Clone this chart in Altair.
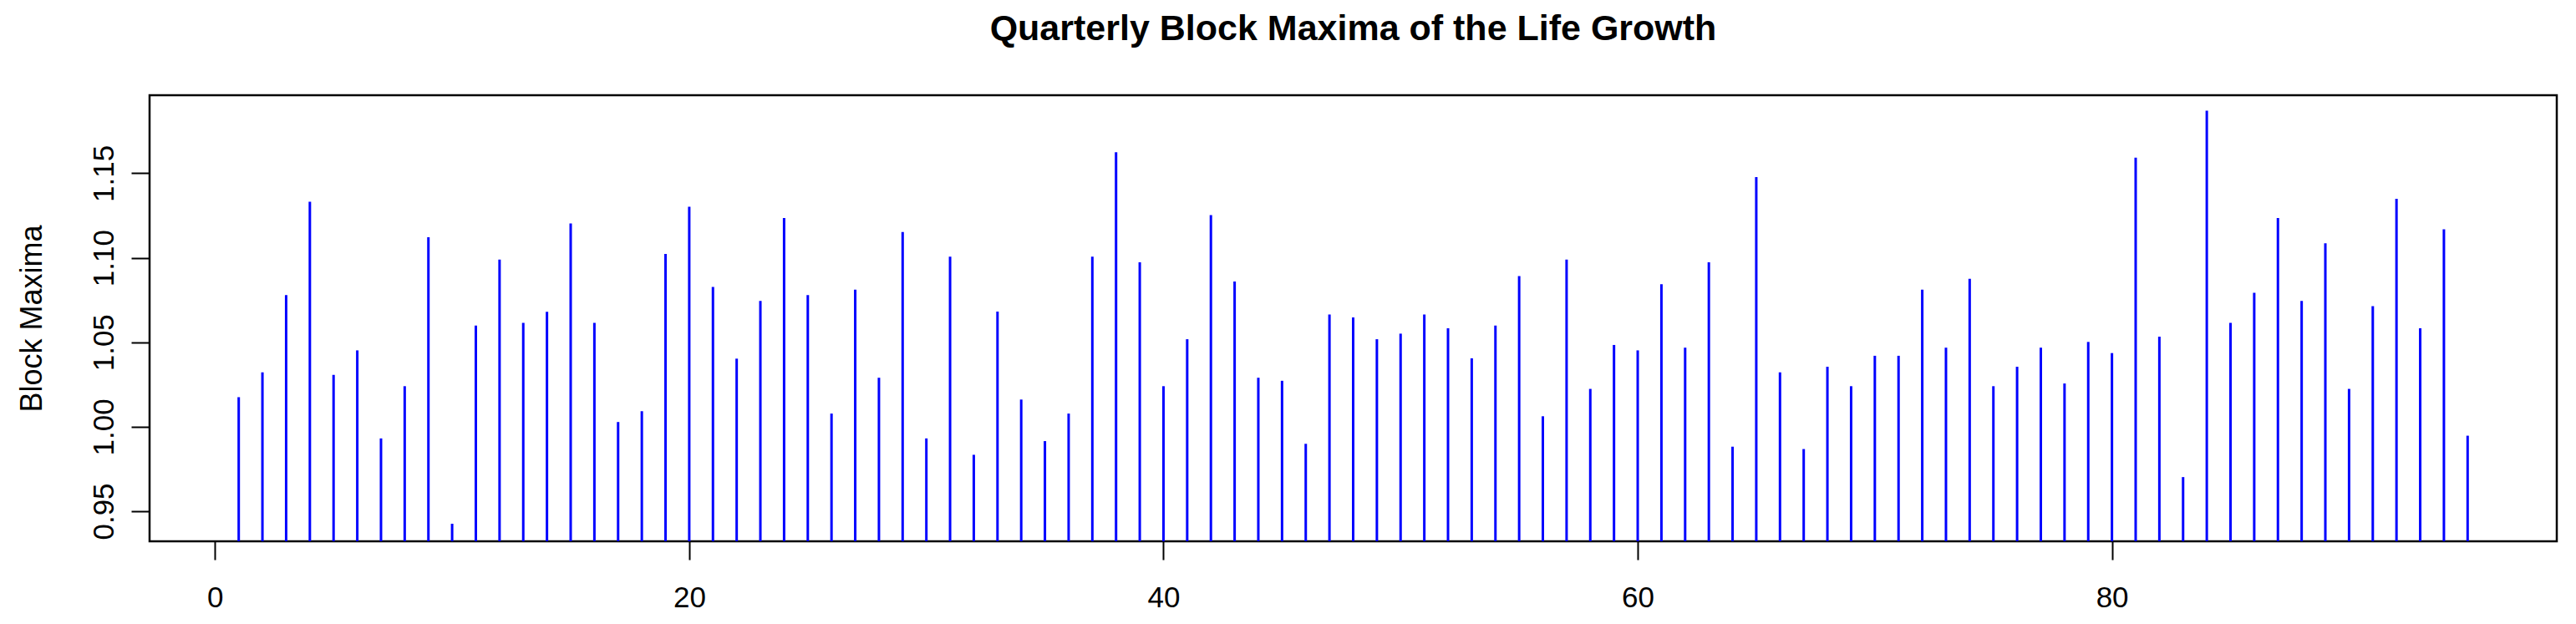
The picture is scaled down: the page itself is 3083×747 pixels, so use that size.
import altair as alt
import pandas as pd

# Block index (quarter) and block maxima values
quarters = list(range(1, 96))
maxima = [
    1.0175, 1.0322, 1.0779, 1.1332, 1.0307, 1.0452, 0.9931, 1.0240, 1.1122, 0.9426,
    1.0599, 1.0989, 1.0615, 1.0680, 1.1203, 1.0615, 1.0028, 1.0092, 1.1023, 1.1302,
    1.0828, 1.0403, 1.0745, 1.1235, 1.0779, 1.0078, 1.0811, 1.0290, 1.1153, 0.9931,
    1.1007, 0.9834, 1.0682, 1.0161, 0.9915, 1.0078, 1.1007, 1.1625, 1.0973, 1.0240,
    1.0518, 1.1252, 1.0860, 1.0290, 1.0272, 0.9899, 1.0664, 1.0647, 1.0518, 1.0551,
    1.0664, 1.0583, 1.0405, 1.0599, 1.0892, 1.0062, 1.0989, 1.0224, 1.0484, 1.0452,
    1.0843, 1.0468, 1.0973, 0.9882, 1.1478, 1.0322, 0.9868, 1.0355, 1.0240, 1.0420,
    1.0420, 1.0811, 1.0468, 1.0876, 1.0240, 1.0355, 1.0468, 1.0256, 1.0502, 1.0436,
    1.1593, 1.0533, 0.9702, 1.1870, 1.0615, 1.0793, 1.1235, 1.0745, 1.1086, 1.0224,
    1.0714, 1.1349, 1.0583, 1.1169, 0.9947,
]
x_ticks = [0, 20, 40, 60, 80]
y_ticks = [0.95, 1.00, 1.05, 1.10, 1.15]

X_DOMAIN = [-2.76, 98.76]
Y_DOMAIN = [0.9322, 1.1962]

df = pd.DataFrame({"q": quarters, "m": maxima})

FONT = "Liberation Sans, Arial, Helvetica, sans-serif"
W, H = 2881, 534

chart = (
    alt.Chart(df)
    .mark_rule(color="#0000FF", strokeWidth=3, clip=True)
    .encode(
        x=alt.X(
            "q:Q",
            scale=alt.Scale(domain=X_DOMAIN, nice=False, zero=False),
            axis=alt.Axis(
                values=x_ticks,
                format="d",
                title=None,
                grid=False,
                domain=False,
                ticks=True,
                tickSize=22,
                tickWidth=2,
                tickColor="black",
                labelFont=FONT,
                labelFontSize=35,
                labelColor="black",
                labelBaseline="alphabetic",
                labelPadding=56,
                labelFlush=False,
                labelOverlap=False,
            ),
        ),
        y=alt.Y(
            "m:Q",
            scale=alt.Scale(domain=Y_DOMAIN, nice=False, zero=False),
            axis=alt.Axis(
                values=y_ticks,
                format=".2f",
                title="Block Maxima",
                grid=False,
                domain=False,
                tickSize=22,
                tickWidth=2,
                tickColor="black",
                labelFont=FONT,
                labelFontSize=35,
                labelColor="black",
                labelAngle=270,
                labelAlign="center",
                labelBaseline="alphabetic",
                labelPadding=22,
                labelFlush=False,
                labelOverlap=False,
                titleFont=FONT,
                titleFontSize=36,
                titleFontWeight="normal",
                titleColor="black",
                titleAngle=270,
                titleAlign="center",
                titleBaseline="alphabetic",
                titleX=-130,
                titleY=H / 2,
            ),
        ),
        y2=alt.Y2(datum=Y_DOMAIN[0]),
    )
    .properties(
        width=W,
        height=H,
        background="white",
        title=alt.TitleParams(
            text="Quarterly Block Maxima of the Life Growth",
            font=FONT,
            fontSize=43,
            fontWeight="bold",
            color="black",
            anchor="middle",
            baseline="alphabetic",
            offset=23,
        ),
        autosize=alt.AutoSizeParams(type="none"),
        padding={"left": 171, "top": 106, "right": 15, "bottom": 85},
    )
    .configure_view(stroke="black", strokeWidth=2.5, fill="white")
)

chart.save("out.html", embed_options={"renderer": "svg", "actions": False})
